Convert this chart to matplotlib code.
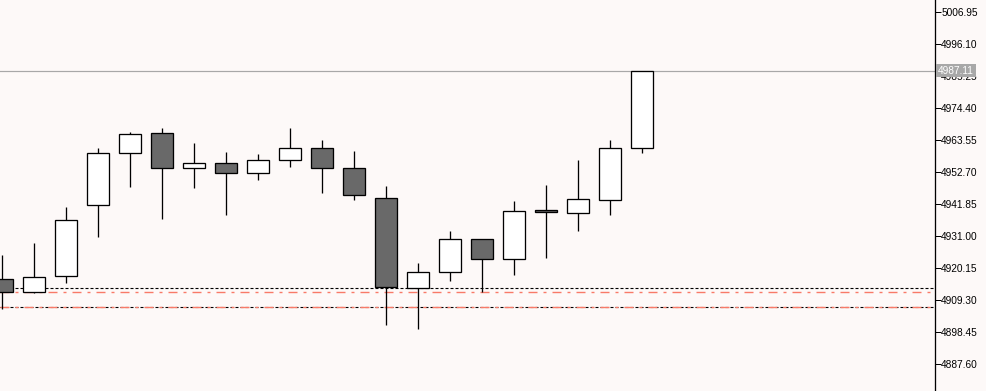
import matplotlib.pyplot as plt
import numpy as np

# OHLC, oldest first
opens = [4916.32, 4911.91, 4917.34, 4941.41, 4959.04, 4965.82, 4953.96, 4955.65, 4952.26, 4956.67,
         4960.74, 4953.96, 4943.78, 4913.27, 4918.69, 4929.88, 4923.10, 4939.71, 4938.90, 4943.11, 4960.74]
highs = [4924.56, 4928.53, 4940.83, 4960.84, 4966.16, 4967.62, 4962.43, 4959.38, 4958.80, 4967.62,
         4963.55, 4959.82, 4947.95, 4921.85, 4932.70, 4929.88, 4942.87, 4948.29, 4956.77, 4963.55, 4987.11]
lows = [4906.15, 4911.57, 4914.96, 4930.76, 4947.72, 4936.66, 4947.17, 4938.22, 4949.99, 4954.50,
        4945.68, 4943.21, 4900.93, 4899.57, 4915.84, 4912.12, 4917.88, 4923.64, 4932.80, 4938.22, 4959.24]
closes = [4911.91, 4917.00, 4936.43, 4959.04, 4965.48, 4953.96, 4955.65, 4952.26, 4956.67, 4960.74,
          4953.96, 4944.80, 4913.81, 4918.69, 4929.88, 4923.10, 4939.38, 4939.04, 4943.44, 4960.74, 4987.11]

price_ticks = [5006.95, 4996.10, 4985.25, 4974.40, 4963.55, 4952.70, 4941.85, 4931.00, 4920.15,
               4909.30, 4898.45, 4887.60]
last_price = 4987.11
level_black = 4913.29
level_red = 4911.93
level_low = 4906.85

plt.rcParams["lines.scale_dashes"] = False

bg = "#fdf9f8"
fig = plt.figure(figsize=(9.86, 3.91), dpi=100, facecolor=bg)
ax = fig.add_axes([0, 0, 935 / 986, 1])
ax.set_facecolor(bg)

px = 0.72  # one pixel in points
dashdot = (0, (9 * px, 6 * px, 3 * px, 6 * px))
dotted = (0, (3 * px, 2 * px))

# levels
ax.axhline(last_price, color="#a8a8a8", lw=1.2 * px, zorder=1)
ax.axhline(level_black, color="black", lw=1.1 * px, ls=dotted, zorder=1, snap=True)
ax.axhline(level_red, color="#f87a68", lw=1.4 * px, ls=dashdot, zorder=1, snap=True)
ax.axhline(level_low, color="black", lw=1.1 * px, ls=dotted, zorder=1, snap=True)
ax.axhline(level_low, color="#f87a68", lw=1.4 * px, ls=dashdot, zorder=1.5, snap=True)

o = np.array(opens)
h = np.array(highs)
l = np.array(lows)
c = np.array(closes)
x = np.arange(len(o))
up = c >= o

ax.vlines(x, l, h, color="black", lw=1.3 * px, zorder=2)
ax.bar(x, np.abs(c - o), bottom=np.minimum(o, c), width=0.6875,
       color=np.where(up, "white", "#696969"), edgecolor="black", linewidth=1.3 * px, zorder=3)

ax.set_xlim(-0.072, 29.147)
ax.set_ylim(4878.45, 5011.02)

for s in ["top", "left", "bottom"]:
    ax.spines[s].set_visible(False)
ax.spines["right"].set_color("black")
ax.spines["right"].set_linewidth(1.3 * px)
ax.set_xticks([])
ax.yaxis.tick_right()
ax.set_yticks(price_ticks)
ax.set_yticklabels([f"{p:.2f}" for p in price_ticks], fontsize=7.3, family="Liberation Sans")
ax.tick_params(axis="y", direction="out", length=4, width=1 * px, pad=0.5, colors="black")

# current price label
ax.text(1.0035, last_price, f"{last_price:.2f}", transform=ax.get_yaxis_transform(),
        fontsize=7.3, family="Liberation Sans", color="white", va="center", ha="left",
        zorder=10, clip_on=False,
        bbox=dict(boxstyle="square,pad=0.18", fc="#a8a8a8", ec="none"))

fig.savefig("out.png", dpi=100, facecolor=bg)
